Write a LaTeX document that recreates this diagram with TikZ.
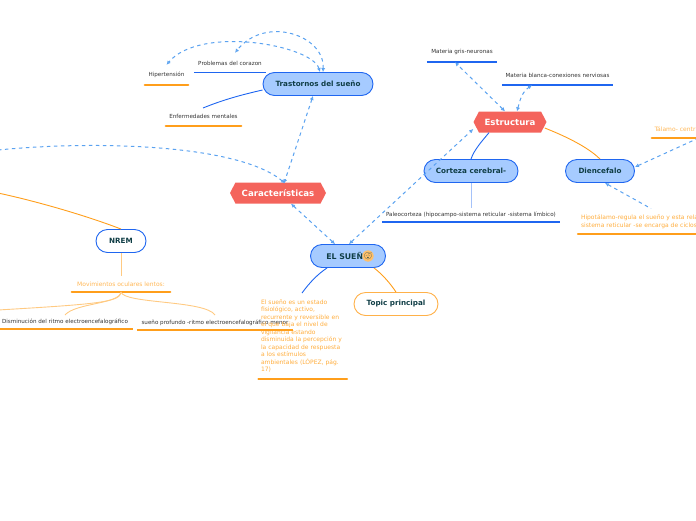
\documentclass[tikz,border=0pt]{standalone}
\usepackage{fontspec}
\setmainfont{DejaVu Sans}
\newfontfamily\emojifont{Noto Emoji}
\usetikzlibrary{arrows.meta,positioning,shapes.misc,shapes.symbols}
\definecolor{myblue}{HTML}{1F66F0}
\definecolor{myfill}{HTML}{A6CBFF}
\definecolor{myorange}{HTML}{FF9E1B}
\definecolor{mytext}{HTML}{103E46}
\definecolor{myred}{HTML}{F4645C}
\definecolor{mylink}{HTML}{5AA2F0}
\tikzset{
  topicbox/.style={rounded rectangle,draw=myblue,fill=myfill,line width=0.9pt,text=mytext,font=\fontsize{7.2}{8}\selectfont\bfseries,minimum height=23pt,inner xsep=0pt,inner ysep=0pt},
  plainbox/.style={topicbox,fill=white},
  orangebox/.style={topicbox,fill=white,draw=myorange!80},
  hexbox/.style={signal,signal to=east and west,signal pointer angle=125,fill=myred,text=white,font=\fontsize{8.6}{9}\selectfont\bfseries,minimum height=21pt,inner xsep=0pt,inner ysep=0pt},
  leaf/.style={inner sep=0pt,text=black!80,font=\fontsize{5.6}{6}\selectfont,anchor=center},
  orangeleaf/.style={leaf,text=myorange!85,font=\fontsize{6}{7.45}\selectfont,align=left},
  bluebar/.style={draw=myblue,line width=1.5pt},
  orangebar/.style={draw=myorange,line width=2.4pt,line cap=round},
  thinbar/.style={draw=myorange,line width=1.8pt},
  link/.style={draw=mylink,dash pattern=on 3.5pt off 3.5pt,line width=1pt,{Latex[length=4pt,width=4pt,open]}-{Latex[length=4pt,width=4pt,open]}},
  blueline/.style={draw=myblue,line width=0.9pt},
  orangeline/.style={draw=myorange,line width=0.9pt},
  paleline/.style={draw=myorange!55,line width=0.9pt},
}
\begin{document}
\begin{tikzpicture}[x=1pt,y=-1pt]
\useasboundingbox (0,0) rectangle (696,520);
\clip (0,0) rectangle (696,520);
% main boxes
\node[topicbox,minimum width=110pt] (trastornos) at (318,84) {Trastornos del sueño};
\node[topicbox,minimum width=75pt,font=\fontsize{7.8}{8}\selectfont\bfseries] (sueno) at (348,256) {EL SUEÑO\hspace{9pt}};
\node[circle,fill=myorange!65,inner sep=0pt,minimum size=9pt,text=mytext,font=\fontsize{7}{8}\selectfont\emojifont] (carita) at (368,256) {😴};
\node[topicbox,minimum width=94pt] (corteza) at (471,171) {Corteza cerebral-};
\node[topicbox,minimum width=69pt] (diencefalo) at (600,171) {Diencefalo};
\node[plainbox,minimum width=50pt] (nrem) at (121,241) {NREM};
\node[orangebox,minimum width=84pt] (topic) at (396,304) {Topic principal};
\node[hexbox,minimum width=73pt] (estructura) at (510,122) {Estructura};
\node[hexbox,minimum width=96pt] (caracteristicas) at (278,193) {Características};
% leaves with a bar below
\node[leaf,minimum width=72pt,minimum height=18pt] (problemas) at (230,63) {Problemas del corazon};
\node[leaf,minimum width=43pt,minimum height=20pt] (hipertension) at (166.5,75) {Hipertensión};
\node[leaf,minimum width=75pt,minimum height=20pt] (enfermedades) at (203.5,116) {Enfermedades mentales};
\node[leaf,minimum width=70pt,minimum height=20pt] (gris) at (462,52) {Materia gris-neuronas};
\node[leaf,minimum width=111pt,minimum height=20pt] (blanca) at (557.5,75) {Materia blanca-conexiones nerviosas};
\node[leaf,minimum width=178pt,minimum height=14pt] (paleo) at (471,215) {Paleocorteza (hipocampo-sistema reticular -sistema límbico)};
\node[orangeleaf,minimum width=98pt,minimum height=15pt,align=center,text=myorange!75] (movimientos) at (121,284) {Movimientos oculares lentos:};
\node[leaf,minimum width=136pt,minimum height=14pt] (disminucion) at (65,322) {Disminución del ritmo electroencefalográfico};
\node[leaf,minimum width=156pt,minimum height=13pt] (profundo) at (215,323) {sueño profundo -ritmo electroencefalográfico menor};
\node[orangeleaf,minimum width=46pt,minimum height=18pt,text=myorange!75] (talamo) at (675,129) {Tálamo- centr};
\node[orangeleaf,text width=118pt,inner xsep=0pt] (hipotalamo) at (640,221.5) {Hipotálamo-regula el sueño y esta rela\\sistema reticular -se encarga de ciclos};
\node[orangeleaf,text width=90pt] (parrafo) at (306,336) {El sueño es un estado\\fisiológico, activo,\\recurrente y reversible en\\el que baja el nivel de\\vigilancia estando\\disminuida la percepción y\\la capacidad de respuesta\\a los estímulos\\ambientales (LÓPEZ, pág.\\17)};
\coordinate (hipoA) at (578,234);
\coordinate (hipoB) at (698,234);
\coordinate (parrafoA) at (258.5,379);
\coordinate (parrafoB) at (347,379);
\coordinate (movBase) at (121,292);
% bars
\draw[bluebar,line width=1.1pt] (problemas.south west) -- (problemas.south east);
\draw[orangebar] (hipertension.south west) -- (hipertension.south east);
\draw[orangebar] (enfermedades.south west) -- (enfermedades.south east);
\draw[bluebar] (gris.south west) -- (gris.south east);
\draw[bluebar] (blanca.south west) -- (blanca.south east);
\draw[bluebar] (paleo.south west) -- (paleo.south east);
\draw[orangebar] (movimientos.south west) -- (movimientos.south east);
\draw[thinbar] (disminucion.south west) -- (disminucion.south east);
\draw[thinbar] (profundo.south west) -- (profundo.south east);
\draw[orangebar] (talamo.south west) -- (talamo.south east);
\draw[orangebar] (hipoA) -- (hipoB);
\draw[orangebar] (parrafoA) -- (parrafoB);
% solid branches
\coordinate (enfTop) at (203,108);
\coordinate (parTop) at (302,293);
\coordinate (offNrem) at (-2,193);
\coordinate (offLink) at (-2,150);
\coordinate (leftA) at (-2,310);
\coordinate (leftB) at (65,315);
\coordinate (rightB) at (215,315);
\draw[blueline] ([yshift=-6pt]trastornos.west) .. controls (245,94) and (225,99) .. (enfTop);
\draw[blueline] ([xshift=-21pt]estructura.south) .. controls (482,141) and (474,150) .. (corteza.north);
\draw[orangeline] ([xshift=-2pt,yshift=-6pt]estructura.east) .. controls (565,136) and (588,147) .. (diencefalo.north);
\draw[orangeline] (nrem.north) .. controls (90,217) and (40,202) .. (offNrem);
\draw[blueline] ([xshift=-21pt]sueno.south) .. controls (318,274) and (310,282) .. (parTop);
\draw[orangeline] ([xshift=26pt]sueno.south) .. controls (382,274) and (390,283) .. (topic.north);
\draw[draw=myblue!40,line width=0.9pt] (corteza.south) -- (paleo.north);
\draw[paleline] (nrem.south) -- (movimientos.north);
\draw[paleline] (movBase) .. controls (120,302) and (100,304) .. (leftA);
\draw[paleline] (movBase) .. controls (120,304) and (75,303) .. (leftB);
\draw[paleline] (movBase) .. controls (124,304) and (205,300) .. (rightB);
% dashed links
\draw[link] ([xshift=2pt]trastornos.north) .. controls (312,45) and (200,25) .. (hipertension.north);
\draw[link] ([xshift=5pt]trastornos.north) .. controls (325,35) and (265,15) .. ([xshift=5pt,yshift=1pt]problemas.north);
\draw[link] ([xshift=-5pt]trastornos.south) -- ([xshift=6pt,yshift=-1pt]caracteristicas.north);
\draw[link,-{Latex[length=4pt,width=4pt,open]}] (offLink) .. controls (100,140) and (240,145) .. ([xshift=7pt,yshift=-1pt]caracteristicas.north);
\draw[link] ([xshift=13pt]caracteristicas.south) -- ([xshift=-13pt]sueno.north);
\draw[link] ([xshift=1pt]sueno.north) -- ([yshift=-7pt]estructura.west);
\draw[link] ([xshift=-5pt]estructura.north) -- ([xshift=-7pt]gris.south);
\draw[link] ([xshift=7pt]estructura.north) .. controls (520,100) and (522,92) .. ([xshift=-25.5pt]blanca.south);
\draw[link,{Latex[length=4pt,width=4pt,open]}-] ([yshift=4pt]diencefalo.east) -- (talamo.south east);
\draw[link,{Latex[length=4pt,width=4pt,open]}-] ([xshift=5pt]diencefalo.south) -- ([xshift=11pt,yshift=6pt]hipotalamo.north);
\end{tikzpicture}
\end{document}
